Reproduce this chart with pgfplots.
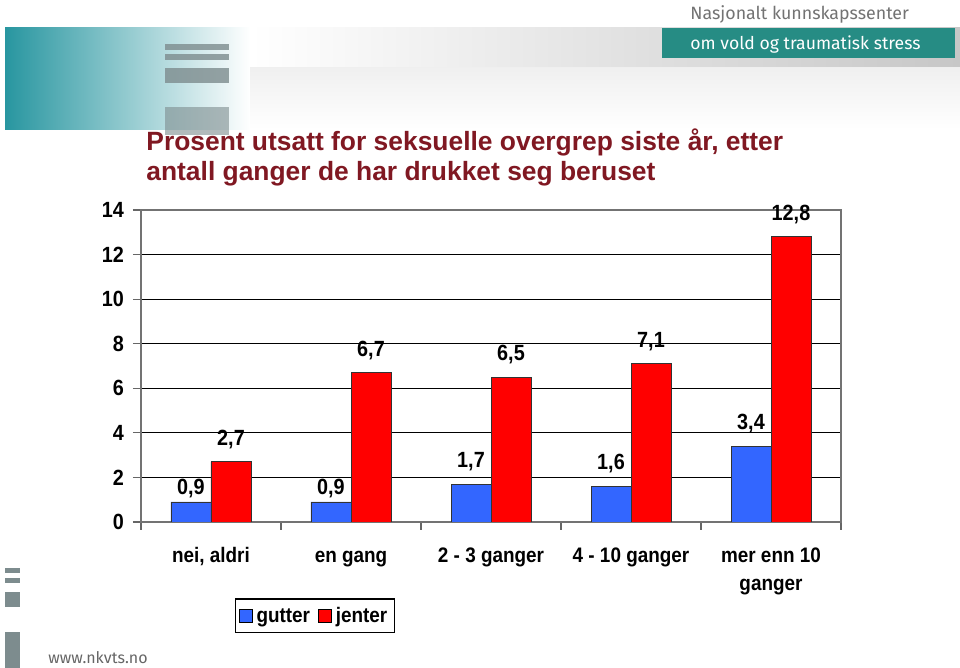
\documentclass[border=0pt]{standalone}
\usepackage{fontspec}
\setmainfont{Liberation Sans}[FakeStretch=0.9]
\newfontfamily\titlefont{Liberation Sans}
\newfontfamily\logofont{Fira Sans}
\usepackage{pgfplots}
\pgfplotsset{compat=1.18}
\definecolor{titlered}{RGB}{128,24,34}
\definecolor{barblue}{RGB}{51,102,255}
\definecolor{barred}{RGB}{255,0,0}
\definecolor{logoteal}{RGB}{38,140,132}
\definecolor{decogray}{RGB}{125,140,142}
\definecolor{bannerteal}{RGB}{40,150,160}

\begin{document}
\begin{tikzpicture}
\useasboundingbox (0,0) rectangle (480pt,334pt);
\fill[white] (0,0) rectangle (480pt,334pt);
% banner behind the title
\shade[left color=bannerteal, right color=white] (2.5pt,269pt) rectangle (125pt,320pt);
\shade[left color=white, right color=black!22] (125pt,300pt) rectangle (480pt,320pt);
\shade[top color=black!6, bottom color=white] (125pt,269pt) rectangle (480pt,300pt);
\fill[decogray,opacity=0.8] (82.5pt,309pt) rectangle (114.5pt,312pt);
\fill[decogray,opacity=0.8] (82.5pt,304pt) rectangle (114.5pt,307pt);
\fill[decogray,opacity=0.8] (82.5pt,292.5pt) rectangle (114.5pt,300pt);
\fill[decogray,opacity=0.6] (82.5pt,266.5pt) rectangle (114.5pt,280.5pt);
% logo
\fill[logoteal] (331pt,305pt) rectangle (477.5pt,320pt);
\node[anchor=base west, text=white, font=\logofont\fontsize{8.8}{10}\selectfont, inner sep=0pt] at (345pt,309pt) {om vold og traumatisk stress};
\node[anchor=base west, text=black!55, font=\logofont\fontsize{8.9}{10}\selectfont, inner sep=0pt] at (345pt,324pt) {Nasjonalt kunnskapssenter};
% bottom left marks
\fill[decogray] (2.5pt,47.5pt) rectangle (10pt,50pt);
\fill[decogray] (2.5pt,42.5pt) rectangle (10pt,45pt);
\fill[decogray] (2.5pt,30.5pt) rectangle (10pt,38pt);
\fill[decogray] (2.5pt,0pt) rectangle (10pt,18pt);
\node[anchor=base west, text=black!60, font=\logofont\fontsize{8}{9}\selectfont, inner sep=0pt] at (24pt,2pt) {www.nkvts.no};
% title
\node[anchor=north west, text=titlered, align=left, inner sep=0pt,
      font=\titlefont\bfseries\fontsize{13.2}{15}\selectfont] at (73pt,270pt)
  {Prosent utsatt for seksuelle overgrep siste år, etter\\antall ganger de har drukket seg beruset};

\begin{axis}[
    at={(70.5pt,73pt)}, anchor=south west,
    scale only axis, width=350pt, height=156pt,
    xmin=-0.5, xmax=4.5, ymin=0, ymax=14,
    ytick={0,2,...,14},
    xtick={-0.5,0.5,...,4.5},
    x tick label as interval,
    xticklabels={{\strut nei, aldri},\strut en gang,\strut 2 - 3 ganger,\strut 4 - 10 ganger,\strut mer enn 10\\ganger},
    tick pos=left,
    tick align=outside,
    major tick length=4pt,
    tick style={black!60, line width=0.6pt},
    axis line style={black!55, line width=0.6pt},
    ymajorgrids,
    grid style={black, line width=0.6pt},
    ybar=0pt, bar width=20pt,
    /pgf/number format/assume math mode=true,
    yticklabel style={font=\bfseries\fontsize{11}{13}\selectfont, xshift=-1pt},
    xticklabel style={font=\bfseries\fontsize{10.5}{14}\selectfont, align=center, yshift=-3pt},
    nodes near coords={\pgfmathprintnumber[fixed,fixed zerofill,precision=1,use comma,assume math mode=true]{\pgfplotspointmeta}},
    every node near coord/.append style={font=\bfseries\fontsize{11}{12}\selectfont, black, yshift=3pt},
    legend style={at={(0.2486,-0.301)}, anchor=center, draw=black, line width=0.6pt,
        font=\bfseries\fontsize{10.5}{12}\selectfont, inner sep=1.5pt,
        /tikz/every even column/.append style={column sep=2pt}},
    legend columns=2,
    legend image code/.code={\draw[#1, draw=black, line width=0.4pt] (0pt,-3.2pt) rectangle (6.5pt,3.3pt);},
]
\addplot[fill=barblue, draw=black!80, line width=0.4pt,
    coordinate style/.condition={\pgfkeysvalueof{/data point/y}<1}{yshift=-4.5pt}]
    coordinates {(0,0.9) (1,0.9) (2,1.7) (3,1.6) (4,3.4)};
\addplot[fill=barred, draw=black!80, line width=0.4pt]
    coordinates {(0,2.7) (1,6.7) (2,6.5) (3,7.1) (4,12.8)};
\legend{\strut gutter,\strut jenter}
\end{axis}
\end{tikzpicture}
\end{document}
